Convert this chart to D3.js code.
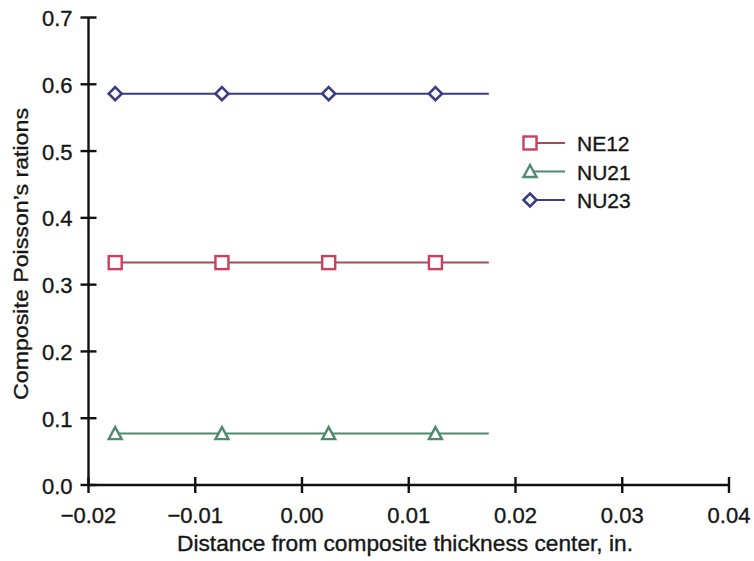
<!DOCTYPE html>
<html><head><meta charset="utf-8">
<script src="https://cdn.jsdelivr.net/npm/d3@7"></script>
<style>body{margin:0;background:#fff}svg{display:block}text{font-family:"Liberation Sans",Arial,sans-serif;fill:#161616;stroke:#161616;stroke-width:0.35}</style>
</head><body>
<script>
const xPositions = [-0.0175,-0.0125,-0.0075,-0.0025,0.0025,0.0075,0.0125,0.0175];
const markerEvery = 2;
const seriesNames = ["NE12","NU21","NU23"];
const ne12 = [0.333,0.333,0.333,0.333,0.333,0.333,0.333,0.333];
const nu21 = [0.077,0.077,0.077,0.077,0.077,0.077,0.077,0.077];
const nu23 = [0.586,0.586,0.586,0.586,0.586,0.586,0.586,0.586];
const xTicks = [-0.02,-0.01,0.00,0.01,0.02,0.03,0.04];
const yTicks = [0.0,0.1,0.2,0.3,0.4,0.5,0.6,0.7];
const xTitle = "Distance from composite thickness center, in.";
const yTitle = "Composite Poisson\u2019s rations";

const W=754,H=561;
const svg=d3.select("body").append("svg").attr("width",W).attr("height",H);
const x=d3.scaleLinear().domain([-0.02,0.04]).range([88.5,729]);
const y=d3.scaleLinear().domain([0,0.7]).range([485,17.5]);

const series=[
 {name:"NE12",vals:ne12,color:"#c8405c",line:"#a84a5a",shape:"square"},
 {name:"NU21",vals:nu21,color:"#4f8a6c",line:"#4f8a6c",shape:"triangle"},
 {name:"NU23",vals:nu23,color:"#3a3a85",line:"#3a3a85",shape:"diamond"}
];
function marker(g,shape,color){
  if(shape==="square") g.append("rect").attr("x",-6.5).attr("y",-6.5).attr("width",13).attr("height",13).attr("fill","#fff").attr("stroke",color).attr("stroke-width",2.4);
  else if(shape==="triangle") g.append("path").attr("d","M0,-6.5L6.5,5.5L-6.5,5.5Z").attr("fill","#fff").attr("stroke",color).attr("stroke-width",2.4);
  else g.append("path").attr("d","M0,-6.5L6.5,0L0,6.5L-6.5,0Z").attr("fill","#fff").attr("stroke",color).attr("stroke-width",2.6);
}
const line=d3.line().x(d=>x(d[0])).y(d=>y(d[1]));
series.forEach(s=>{
  const pts=xPositions.map((xv,i)=>[xv,s.vals[i]]);
  svg.append("path").attr("d",line(pts)).attr("fill","none").attr("stroke",s.line).attr("stroke-width",2);
  pts.forEach((p,i)=>{ if(i%markerEvery===0){ marker(svg.append("g").attr("transform",`translate(${x(p[0])},${y(p[1])})`),s.shape,s.color);} });
});

// axes
const ax=svg.append("g").attr("stroke","#111").attr("stroke-width",2.4);
ax.append("line").attr("x1",x(-0.02)).attr("x2",x(0.04)).attr("y1",y(0)).attr("y2",y(0));
ax.append("line").attr("x1",x(-0.02)).attr("x2",x(-0.02)).attr("y1",y(0)).attr("y2",y(0.7));
xTicks.forEach(t=>ax.append("line").attr("x1",x(t)).attr("x2",x(t)).attr("y1",y(0)-8).attr("y2",y(0)+8));
yTicks.forEach(t=>ax.append("line").attr("x1",x(-0.02)-8).attr("x2",x(-0.02)+8).attr("y1",y(t)).attr("y2",y(t)));
xTicks.forEach(t=>svg.append("text").attr("x",x(t)).attr("y",y(0)+38).attr("text-anchor","middle").attr("font-size",22).text(d3.format(".2f")(t).replace("-","\u2013")));
yTicks.forEach(t=>svg.append("text").attr("x",x(-0.02)-16).attr("y",y(t)+8.5).attr("text-anchor","end").attr("font-size",22).text(d3.format(".1f")(t)));
svg.append("text").attr("x",405).attr("y",551).attr("text-anchor","middle").attr("font-size",21.5)
  .attr("textLength",456).attr("lengthAdjust","spacingAndGlyphs").text(xTitle);
svg.append("text").attr("transform","translate(28,254) rotate(-90)").attr("text-anchor","middle").attr("font-size",21)
  .attr("textLength",292).attr("lengthAdjust","spacingAndGlyphs").text(yTitle);

// legend
series.forEach((s,i)=>{
  const ly=143+i*28.5;
  svg.append("line").attr("x1",530).attr("x2",565).attr("y1",ly).attr("y2",ly).attr("stroke",s.line).attr("stroke-width",1.8);
  marker(svg.append("g").attr("transform",`translate(530,${ly})`),s.shape,s.color);
  svg.append("text").attr("x",577).attr("y",ly+8).attr("font-size",21).text(s.name);
});
</script>
</body></html>
